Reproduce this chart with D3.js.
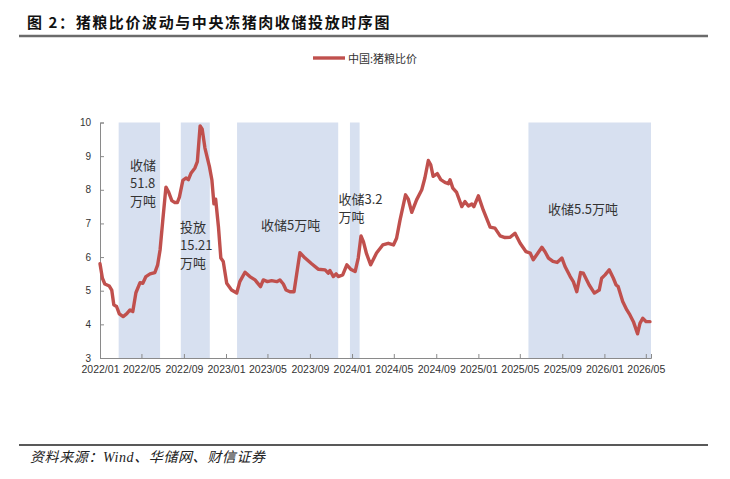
<!DOCTYPE html>
<html>
<head>
<meta charset="utf-8">
<script src="https://cdn.jsdelivr.net/npm/d3@7"></script>
<style>
  body { margin: 0; background: #fff; }
  svg { display: block; }
</style>
</head>
<body>
<script>
const width = 730;
const height = 479;

// weekly-ish readings of the hog-grain price ratio
var dates = [
  "2022-01-01","2022-01-08","2022-01-15","2022-01-28","2022-02-04","2022-02-10","2022-02-18","2022-02-26",
  "2022-03-09","2022-03-19","2022-03-29","2022-04-06","2022-04-15","2022-04-27","2022-05-05","2022-05-14",
  "2022-05-26","2022-06-09","2022-06-17","2022-06-24","2022-07-02","2022-07-11","2022-07-18","2022-07-28",
  "2022-08-06","2022-08-13","2022-08-19","2022-08-29","2022-09-07","2022-09-14","2022-09-22","2022-10-03",
  "2022-10-10","2022-10-18","2022-10-24","2022-11-01","2022-11-14","2022-11-21","2022-11-27","2022-12-02",
  "2022-12-10","2022-12-17","2022-12-24","2023-01-03","2023-01-17","2023-02-01","2023-02-10","2023-02-25",
  "2023-03-11","2023-03-26","2023-04-11","2023-04-19","2023-05-01","2023-05-13","2023-05-28","2023-06-06",
  "2023-06-16","2023-06-24","2023-07-05","2023-07-17","2023-08-03","2023-08-18","2023-09-06","2023-09-25",
  "2023-10-15","2023-10-24","2023-10-29","2023-11-08","2023-11-16","2023-11-22","2023-12-05","2023-12-17",
  "2023-12-28","2024-01-10","2024-01-19","2024-01-27","2024-02-03","2024-02-12","2024-02-24","2024-03-12",
  "2024-03-30","2024-04-15","2024-04-30","2024-05-09","2024-05-19","2024-06-04","2024-06-12","2024-06-22",
  "2024-07-06","2024-07-21","2024-07-30","2024-08-09","2024-08-16","2024-08-23","2024-09-04","2024-09-14",
  "2024-09-26","2024-10-06","2024-10-11","2024-10-19","2024-10-30","2024-11-14","2024-11-23","2024-12-03",
  "2024-12-13","2024-12-19","2025-01-01","2025-01-15","2025-02-04","2025-02-18","2025-03-05","2025-03-19",
  "2025-04-03","2025-04-17","2025-05-02","2025-05-19","2025-05-31","2025-06-09","2025-06-19","2025-07-04",
  "2025-07-13","2025-07-23","2025-08-05","2025-08-17","2025-08-31","2025-09-09","2025-09-24","2025-10-03",
  "2025-10-13","2025-10-24","2025-11-01","2025-11-18","2025-12-03","2025-12-17","2025-12-24","2026-01-03",
  "2026-01-15","2026-01-27","2026-02-04","2026-02-10","2026-02-23","2026-03-07","2026-03-16","2026-03-26",
  "2026-04-07","2026-04-14","2026-04-22","2026-05-02","2026-05-13"
];
var ratio = [
  5.80,5.37,5.20,5.14,5.02,4.58,4.53,4.31,
  4.23,4.31,4.43,4.38,4.94,5.24,5.22,5.42,
  5.50,5.54,5.77,6.21,7.11,8.08,7.95,7.68,
  7.62,7.62,7.78,8.28,8.35,8.30,8.50,8.65,
  8.84,9.90,9.80,9.24,8.69,8.30,7.58,7.72,
  6.91,5.97,5.87,5.22,5.02,4.93,5.27,5.55,
  5.42,5.32,5.12,5.32,5.27,5.30,5.27,5.32,
  5.20,5.02,4.97,4.97,6.13,5.97,5.80,5.64,
  5.62,5.52,5.60,5.42,5.50,5.42,5.47,5.77,
  5.64,5.57,5.97,6.63,6.46,6.10,5.77,6.12,
  6.36,6.41,6.36,6.56,7.10,7.85,7.72,7.33,
  7.70,8.00,8.35,8.87,8.74,8.40,8.48,8.30,
  8.22,8.18,8.30,8.05,7.92,7.50,7.65,7.52,
  7.58,7.50,7.82,7.40,6.89,6.86,6.63,6.58,
  6.59,6.71,6.41,6.16,6.12,5.92,6.07,6.29,
  6.16,5.97,5.87,5.84,5.97,5.72,5.42,5.27,
  4.97,5.54,5.52,5.17,4.93,5.02,5.37,5.47,
  5.62,5.37,5.17,5.12,4.68,4.43,4.28,4.08,
  3.72,4.03,4.18,4.08,4.08
];

// periods of central frozen pork storage / release (start, end)
var periodStarts = ["2022-02-24","2022-08-23","2023-02-02","2023-12-26","2025-05-26"];
var periodEnds   = ["2022-06-24","2022-11-15","2023-11-22","2024-01-23","2026-05-16"];
var periodNotes  = [["收储","51.8","万吨"],["投放","15.21","万吨"],["收储5万吨"],["收储3.2","万吨"],["收储5.5万吨"]];

var xTickLabels = ["2022/01","2022/05","2022/09","2023/01","2023/05","2023/09","2024/01",
  "2024/05","2024/09","2025/01","2025/05","2025/09","2026/01","2026/05"];
var yTicks = [3,4,5,6,7,8,9,10];

var parseDay = d3.timeParse("%Y-%m-%d");
var parseTick = d3.timeParse("%Y/%m");

var cjk = "'Noto Sans CJK SC', 'Noto Sans', sans-serif";

var svg = d3.select("body")
  .append("svg")
  .attr("width", width)
  .attr("height", height);

// title and rules
svg.append("text")
  .attr("x", 27)
  .attr("y", 21)
  .attr("dominant-baseline", "central")
  .attr("font-family", cjk)
  .attr("font-weight", "bold")
  .attr("font-size", 15)
  .attr("letter-spacing", 1.6)
  .attr("fill", "#111")
  .text("图 2：猪粮比价波动与中央冻猪肉收储投放时序图");

svg.append("line")
  .attr("x1", 19).attr("x2", 708)
  .attr("y1", 36).attr("y2", 36)
  .attr("stroke", "#6b6b6b")
  .attr("stroke-width", 2.5);

svg.append("line")
  .attr("x1", 19).attr("x2", 708)
  .attr("y1", 445).attr("y2", 445)
  .attr("stroke", "#222")
  .attr("stroke-width", 1.3);

svg.append("text")
  .attr("x", 30)
  .attr("y", 457)
  .attr("dominant-baseline", "central")
  .attr("font-family", "'Liberation Serif', 'Noto Sans CJK SC', serif")
  .attr("font-style", "italic")
  .attr("font-size", 14)
  .attr("letter-spacing", 0.6)
  .attr("fill", "#222")
  .text("资料来源：Wind、华储网、财信证券");

// scales
var xscale = d3.scaleTime()
  .domain([parseDay("2022-01-01"), parseDay("2026-05-16")])
  .range([100, 651]);

var yscale = d3.scaleLinear()
  .domain([3, 10])
  .range([358, 122.5]);

// shaded periods
svg.append("g")
  .selectAll("rect")
  .data(periodStarts)
  .join("rect")
  .attr("x", (d) => xscale(parseDay(d)))
  .attr("y", yscale(10))
  .attr("width", (d, i) => xscale(parseDay(periodEnds[i])) - xscale(parseDay(d)))
  .attr("height", yscale(3) - yscale(10))
  .attr("fill", "#d7e0f0");

// axes
var x_axis = d3.axisBottom(xscale)
  .tickValues(xTickLabels.map(parseTick))
  .tickFormat(d3.timeFormat("%Y/%m"))
  .tickSize(-4)
  .tickPadding(8);

var y_axis = d3.axisLeft(yscale)
  .tickValues(yTicks)
  .tickFormat(d3.format("d"))
  .tickSize(-4)
  .tickPadding(9);

var gx = svg.append("g")
  .attr("transform", "translate(0," + yscale(3) + ")")
  .call(x_axis);
gx.selectAll("text")
  .attr("font-family", "'Liberation Sans', Arial, sans-serif")
  .attr("font-size", 10.5)
  .attr("fill", "#333");

var gy = svg.append("g")
  .attr("transform", "translate(100,0)")
  .call(y_axis);
gy.selectAll("text")
  .attr("font-family", "'Liberation Sans', Arial, sans-serif")
  .attr("font-size", 10)
  .attr("fill", "#333");

svg.selectAll(".domain, .tick line").attr("stroke", "#8a8a8a");

// annotations, left x / first line centre y in pixels
var notePos = [[130, 164], [180, 226], [261, 224.5], [338.5, 198.5], [548, 208]];
periodNotes.forEach(function(lines, i) {
  lines.forEach(function(t, j) {
    svg.append("text")
      .attr("x", notePos[i][0])
      .attr("y", notePos[i][1] + j * 18)
      .attr("dominant-baseline", "central")
      .attr("font-family", cjk)
      .attr("font-size", 13)
      .attr("fill", "#333")
      .text(t);
  });
});

// the series
var line = d3.line()
  .x((d, i) => xscale(parseDay(dates[i])))
  .y((d) => yscale(d));

svg.append("path")
  .datum(ratio)
  .attr("d", line)
  .attr("fill", "none")
  .attr("stroke", "#c0504d")
  .attr("stroke-width", 3.4)
  .attr("stroke-linejoin", "round")
  .attr("stroke-linecap", "round");

// legend
svg.append("line")
  .attr("x1", 313).attr("x2", 345)
  .attr("y1", 58).attr("y2", 58)
  .attr("stroke", "#c0504d")
  .attr("stroke-width", 3.4);

svg.append("text")
  .attr("x", 348)
  .attr("y", 58)
  .attr("dominant-baseline", "central")
  .attr("font-family", cjk)
  .attr("font-size", 11)
  .attr("fill", "#333")
  .text("中国:猪粮比价");
</script>
</body>
</html>
